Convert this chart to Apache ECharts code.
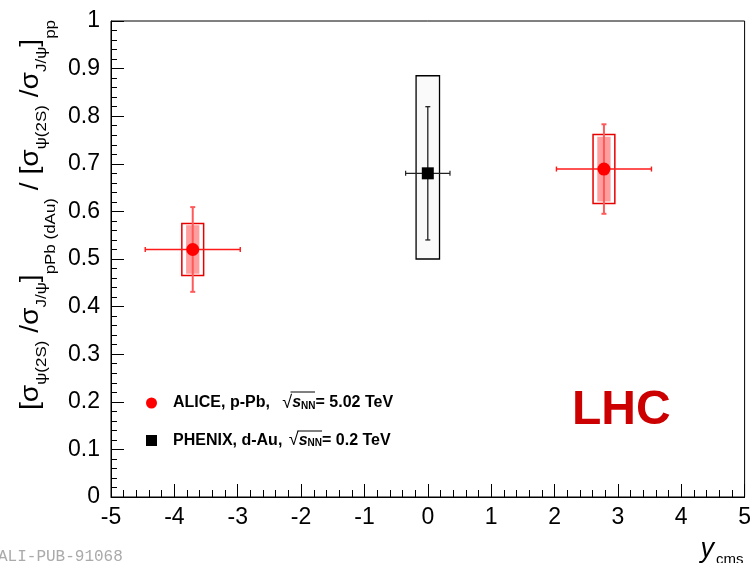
<!DOCTYPE html>
<html><head><meta charset="utf-8">
<script src="https://cdn.jsdelivr.net/npm/echarts@6/dist/echarts.min.js"></script>
<style>html,body{margin:0;padding:0;background:#fff}#c{width:754px;height:563px}</style>
</head><body><div id="c"></div>
<script>
// ---- data ----
const xTickLabels = ['-5','-4','-3','-2','-1','0','1','2','3','4','5'];
const aliceRapidity = [-3.71, 2.78];
const aliceRatio = [0.52, 0.689];
const aliceStatErr = [0.089, 0.094];
const aliceRapidityErr = [0.75, 0.75];
const aliceSysUncorr = [0.0545, 0.0725];
const aliceSysCorr = [0.051, 0.068];
const phenixRapidity = [0.0];
const phenixRatio = [0.68];
const phenixStatErr = [0.14];
const phenixRapidityErr = [0.35];
const phenixSysLow = [0.18];
const phenixSysHigh = [0.205];

// ---- styling constants ----
const FONT = '"Liberation Sans", Arial, Helvetica, sans-serif';
const aliceOpenHalfW = 0.172;
const aliceFillHalfW = 0.105;
const phenixBoxHalfW = 0.185;

const aliceStatData = aliceRapidity.map((x,i)=>[x, aliceRatio[i], aliceRapidityErr[i], aliceStatErr[i], aliceStatErr[i]]);
const phenixStatData = phenixRapidity.map((x,i)=>[x, phenixRatio[i], phenixRapidityErr[i], phenixStatErr[i], phenixStatErr[i]]);
const aliceOpenBoxData = aliceRapidity.map((x,i)=>[x, aliceRatio[i]-aliceSysUncorr[i], aliceRatio[i]+aliceSysUncorr[i]]);
const aliceFillBoxData = aliceRapidity.map((x,i)=>[x, aliceRatio[i]-aliceSysCorr[i], aliceRatio[i]+aliceSysCorr[i]]);
const phenixBoxData = phenixRapidity.map((x,i)=>[x, phenixRatio[i]-phenixSysLow[i], phenixRatio[i]+phenixSysHigh[i]]);

function boxRender(halfW, style) {
  return function (params, api) {
    const x = api.value(0), lo = api.value(1), hi = api.value(2);
    const p1 = api.coord([x - halfW, hi]);
    const p2 = api.coord([x + halfW, lo]);
    return { type: 'rect', shape: { x: p1[0], y: p1[1], width: p2[0]-p1[0], height: p2[1]-p1[1] }, style: style };
  };
}
function errRender(hColor, vColor, hW, vW, cap) {
  return function (params, api) {
    const x = api.value(0), y = api.value(1), xe = api.value(2), ylo = api.value(3), yhi = api.value(4);
    const c = api.coord([x, y]);
    const l = api.coord([x - xe, y]), r = api.coord([x + xe, y]);
    const t = api.coord([x, y + yhi]), b = api.coord([x, y - ylo]);
    const hs = { stroke: hColor, lineWidth: hW };
    const vs = { stroke: vColor, lineWidth: vW };
    return { type: 'group', children: [
      { type: 'line', shape: { x1: l[0], y1: c[1], x2: r[0], y2: c[1] }, style: hs },
      { type: 'line', shape: { x1: l[0], y1: c[1]-cap, x2: l[0], y2: c[1]+cap }, style: hs },
      { type: 'line', shape: { x1: r[0], y1: c[1]-cap, x2: r[0], y2: c[1]+cap }, style: hs },
      { type: 'line', shape: { x1: c[0], y1: t[1], x2: c[0], y2: b[1] }, style: vs },
      { type: 'line', shape: { x1: c[0]-cap, y1: t[1], x2: c[0]+cap, y2: t[1] }, style: vs },
      { type: 'line', shape: { x1: c[0]-cap, y1: b[1], x2: c[0]+cap, y2: b[1] }, style: vs }
    ]};
  };
}

const chart = echarts.init(document.getElementById('c'), null, { renderer: 'canvas' });

const yTitle = '{m|[σ}{s|ψ(2S)}{m| /σ}{s|J/ψ}{m|]}{s2|pPb (dAu)}{m| / [σ}{s|ψ(2S)}{m| /σ}{s|J/ψ}{m|]}{s2|pp}';

const legRich = {
  f: { fontFamily: FONT, fontWeight: 'bold', fontSize: 16, color: '#000', lineHeight: 22, padding: [0,0,0,11] },
  t: { fontFamily: FONT, fontWeight: 'bold', fontSize: 16, color: '#000', lineHeight: 22 },
  r: { fontFamily: FONT, fontSize: 18, color: '#000', lineHeight: 22, padding: [0,0,0,8] },
  r2: { fontFamily: FONT, fontSize: 18, color: '#000', lineHeight: 22, padding: [0,0,0,2] },
  i: { fontFamily: FONT, fontWeight: 'bold', fontStyle: 'italic', fontSize: 16, color: '#000', lineHeight: 22 },
  n: { fontFamily: FONT, fontWeight: 'bold', fontSize: 10, color: '#000', lineHeight: 22, verticalAlign: 'bottom', padding: [0,0,3,0] }
};

const option = {
  backgroundColor: '#fff',
  animation: false,
  grid: { left: 111, right: 6, top: 21, bottom: 66, show: true, borderColor: '#000', borderWidth: 1, backgroundColor: 'transparent' },
  xAxis: {
    type: 'value', min: -5, max: 5, interval: 1,
    axisLine: { show: true, onZero: false, lineStyle: { color: '#000', width: 1 } },
    axisTick: { show: true, inside: true, length: 13, lineStyle: { color: '#000' } },
    minorTick: { show: true, splitNumber: 5, length: 7, lineStyle: { color: '#000' } },
    splitLine: { show: false },
    axisLabel: { color: '#000', fontSize: 23, fontFamily: FONT, margin: 9,
      formatter: v => xTickLabels[Math.round(v) + 5] }
  },
  yAxis: {
    type: 'value', min: 0, max: 1, interval: 0.1,
    axisLine: { show: true, onZero: false, lineStyle: { color: '#000', width: 1 } },
    axisTick: { show: true, inside: true, length: 13, lineStyle: { color: '#000' } },
    minorTick: { show: true, splitNumber: 5, length: 6, lineStyle: { color: '#000' } },
    splitLine: { show: false },
    axisLabel: { color: '#000', fontSize: 23, fontFamily: FONT, margin: 11 }
  },
  legend: {
    orient: 'vertical', left: 141, top: 389, itemWidth: 11, itemHeight: 11, itemGap: 17.5,
    data: ['ALICE', 'PHENIX'],
    formatter: function (name) {
      return name === 'ALICE'
        ? '{f|ALICE, p-Pb, }{r|√}{i|s}{n|NN}{t|= 5.02 TeV}'
        : '{f|PHENIX, d-Au, }{r2|√}{i|s}{n|NN}{t|= 0.2 TeV}';
    },
    textStyle: { rich: legRich }
  },
  graphic: [
    { type: 'text', x: 31, y: 215, rotation: Math.PI / 2, scaleX: 1.13,
      style: { text: yTitle, align: 'center', verticalAlign: 'middle',
        rich: {
          m: { fontFamily: FONT, fontSize: 25, color: '#000', lineHeight: 58, verticalAlign: 'middle' },
          s: { fontFamily: FONT, fontSize: 15, color: '#000', lineHeight: 58, verticalAlign: 'bottom', padding: [0,0,10.5,0] },
          s2: { fontFamily: FONT, fontSize: 15, color: '#000', lineHeight: 58, verticalAlign: 'bottom', padding: [0,0,1.5,0] }
        } } },
    { type: 'text', x: 722, y: 549,
      style: { text: '{y|y}{c|cms}', align: 'center', verticalAlign: 'middle',
        rich: {
          y: { fontFamily: FONT, fontStyle: 'italic', fontSize: 27, color: '#000', lineHeight: 36, verticalAlign: 'middle' },
          c: { fontFamily: FONT, fontSize: 15, color: '#000', lineHeight: 36, verticalAlign: 'bottom', padding: [0,0,0,2] }
        } } },
    { type: 'text', x: 572, y: 411,
      style: { text: 'LHC', fontFamily: FONT, fontWeight: 'bold', fontSize: 48, fill: '#cc0000', verticalAlign: 'middle', align: 'left' } },
    { type: 'text', x: -2, y: 549,
      style: { text: 'ALI-PUB-91068', fontFamily: '"Liberation Mono", "DejaVu Sans Mono", monospace', fontSize: 16, fill: '#aaaaaa', verticalAlign: 'top' } },
    { type: 'line', shape: { x1: 290.5, y1: 392, x2: 315, y2: 392 }, style: { stroke: '#000', lineWidth: 1 } },
    { type: 'line', shape: { x1: 297.5, y1: 431, x2: 322, y2: 431 }, style: { stroke: '#000', lineWidth: 1 } }
  ],
  series: [
    { name: 'PHENIX sys', type: 'custom', renderItem: boxRender(phenixBoxHalfW, { fill: 'rgba(0,0,0,0.02)', stroke: '#000', lineWidth: 1.3 }),
      data: phenixBoxData, encode: { x: 0, y: [1, 2] }, z: 2, silent: true },
    { name: 'ALICE sys corr', type: 'custom', renderItem: boxRender(aliceFillHalfW, { fill: '#ff9e9e', stroke: 'none' }),
      data: aliceFillBoxData, encode: { x: 0, y: [1, 2] }, z: 2, silent: true },
    { name: 'ALICE sys', type: 'custom', renderItem: boxRender(aliceOpenHalfW, { fill: 'none', stroke: '#e80000', lineWidth: 1.5 }),
      data: aliceOpenBoxData, encode: { x: 0, y: [1, 2] }, z: 3, silent: true },
    { name: 'ALICE stat', type: 'custom', renderItem: errRender('#ff1a1a', '#ff5a5a', 1.4, 2, 2.5),
      data: aliceStatData, encode: { x: 0, y: 1 }, z: 4, silent: true },
    { name: 'PHENIX stat', type: 'custom', renderItem: errRender('#222', '#222', 1.2, 1.3, 2.5),
      data: phenixStatData, encode: { x: 0, y: 1 }, z: 4, silent: true },
    { name: 'ALICE', type: 'scatter', symbol: 'circle', symbolSize: 13,
      itemStyle: { color: '#ff0000', opacity: 1 }, data: aliceRapidity.map((x,i)=>[x, aliceRatio[i]]), z: 5 },
    { name: 'PHENIX', type: 'scatter', symbol: 'rect', symbolSize: 12,
      itemStyle: { color: '#000', opacity: 1 }, data: phenixRapidity.map((x,i)=>[x, phenixRatio[i]]), z: 5 }
  ]
};
chart.setOption(option);
</script>
</body></html>
